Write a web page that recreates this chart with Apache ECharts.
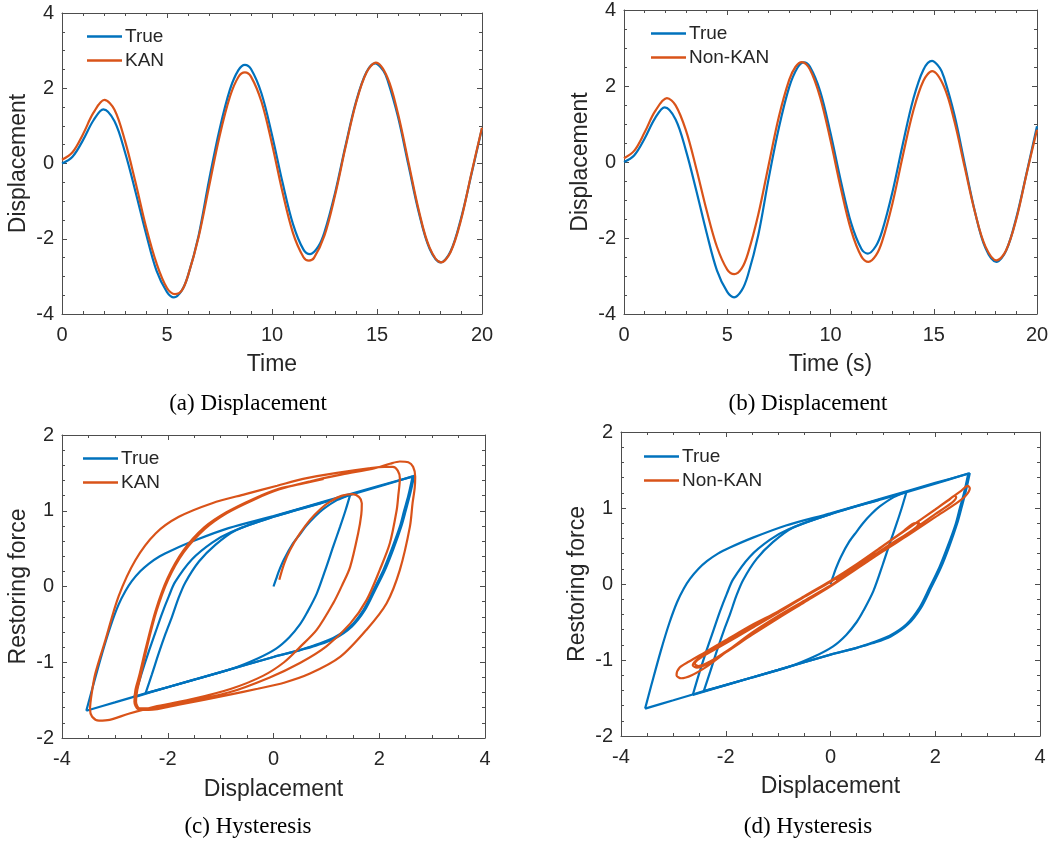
<!DOCTYPE html>
<html lang="en">
<head>
<meta charset="UTF-8">
<title>KAN vs Non-KAN</title>
<script src="https://cdn.jsdelivr.net/npm/echarts@6/dist/echarts.min.js"></script>
<style>
  html, body { margin: 0; padding: 0; background: #fff; }
</style>
</head>
<body>
<div id="main" style="width:1057px;height:846px;"></div>
<script>
// time histories, [time, displacement]
var trueDisp = [[0,0],[0.5,0.18],[1.0,0.62],[1.5,1.15],[1.97,1.44],[2.5,1.12],[3.0,0.3],[3.5,-0.75],[4.0,-1.86],[4.5,-2.85],[5.0,-3.42],[5.33,-3.56],[5.7,-3.38],[6.0,-2.98],[6.5,-1.93],[7.0,-0.45],[7.5,0.9],[8.0,1.97],[8.4,2.48],[8.71,2.62],[9.0,2.51],[9.5,1.86],[10.0,0.76],[10.5,-0.5],[11.0,-1.61],[11.5,-2.29],[11.81,-2.41],[12.2,-2.21],[12.5,-1.82],[13.0,-0.79],[13.5,0.47],[14.0,1.64],[14.5,2.43],[14.92,2.66],[15.3,2.47],[15.5,2.22],[16.0,1.24],[16.5,-0.05],[17.0,-1.32],[17.5,-2.26],[18.03,-2.63],[18.5,-2.34],[19.0,-1.46],[19.5,-0.28],[20.0,0.94]];
var kanDisp = [[0,0.1],[0.5,0.3],[1.0,0.78],[1.5,1.35],[2.02,1.69],[2.5,1.43],[3.0,0.6],[3.5,-0.5],[4.0,-1.68],[4.5,-2.65],[5.0,-3.31],[5.38,-3.47],[5.7,-3.38],[6.0,-2.98],[6.5,-1.97],[7.0,-0.62],[7.5,0.72],[8.0,1.78],[8.4,2.3],[8.71,2.42],[9.0,2.31],[9.5,1.64],[10.0,0.52],[10.5,-0.76],[11.0,-1.85],[11.5,-2.49],[11.76,-2.58],[12.0,-2.51],[12.5,-1.91],[13.0,-0.85],[13.5,0.43],[14.0,1.61],[14.5,2.42],[14.95,2.68],[15.5,2.28],[16.0,1.32],[16.5,0.03],[17.0,-1.27],[17.5,-2.23],[18.05,-2.63],[18.5,-2.36],[19.0,-1.5],[19.5,-0.25],[20.0,0.95]];
var nonKanDisp = [[0,0.1],[0.5,0.3],[1.0,0.78],[1.5,1.33],[2.08,1.68],[2.5,1.49],[3.0,0.83],[3.5,-0.17],[4.0,-1.27],[4.5,-2.23],[5.0,-2.83],[5.34,-2.95],[5.7,-2.8],[6.0,-2.41],[6.5,-1.39],[7.0,-0.09],[7.5,1.19],[8.0,2.16],[8.3,2.5],[8.61,2.63],[9.0,2.44],[9.5,1.7],[10.0,0.57],[10.5,-0.69],[11.0,-1.8],[11.5,-2.49],[11.84,-2.63],[12.2,-2.46],[12.5,-2.09],[13.0,-1.09],[13.5,0.16],[14.0,1.33],[14.5,2.14],[14.92,2.39],[15.5,1.98],[16.0,1.07],[16.5,-0.14],[17.0,-1.33],[17.5,-2.22],[18.05,-2.59],[18.5,-2.33],[19.0,-1.5],[19.5,-0.3],[20.0,0.85]];

// hysteresis, [displacement, restoring force]
var trueHyst = [
  [0,0],[0.05,0.1],[0.1,0.2],[0.2,0.36],[0.36,0.56],[0.5,0.69],[0.62,0.8],[0.78,0.92],[0.94,1.02],[1.2,1.14],[1.45,1.21],
  [1.36,1.0],[1.26,0.79],[1.13,0.53],[1.0,0.26],[0.82,-0.09],[0.63,-0.35],[0.5,-0.5],[0.3,-0.67],[0.05,-0.82],[-0.3,-0.95],[-0.8,-1.09],[-1.5,-1.23],[-2.42,-1.41],[-3.0,-1.53],[-3.54,-1.64],
  [-3.42,-1.33],[-3.24,-0.88],[-3.08,-0.52],[-2.93,-0.24],[-2.8,-0.06],[-2.68,0.07],[-2.52,0.2],[-2.36,0.3],[-2.15,0.4],[-1.92,0.48],[-1.48,0.61],[-0.85,0.77],[0,0.93],[1.0,1.13],[2.0,1.33],[2.63,1.45],
  [2.55,1.2],[2.47,1.0],[2.39,0.79],[2.24,0.5],[2.08,0.22],[1.89,-0.05],[1.7,-0.31],[1.45,-0.53],[1.13,-0.68],[0.8,-0.77],[0.5,-0.84],[0,-0.93],[-1.0,-1.13],[-2.0,-1.33],[-2.42,-1.41],
  [-2.3,-1.16],[-2.17,-0.88],[-2.04,-0.62],[-1.92,-0.4],[-1.8,-0.16],[-1.67,0.05],[-1.41,0.33],[-1.1,0.55],[-0.72,0.74],[0,0.92],[1.0,1.12],[2.0,1.32],[2.66,1.46],
  [2.58,1.21],[2.5,1.0],[2.42,0.8],[2.27,0.5],[2.11,0.22],[1.92,-0.05],[1.73,-0.31],[1.48,-0.53],[1.15,-0.69],[0.8,-0.78],[0.5,-0.84],[0,-0.93],[-1.0,-1.13],[-2.0,-1.33],[-2.63,-1.46],
  [-2.5,-1.16],[-2.36,-0.86],[-2.23,-0.6],[-2.11,-0.36],[-1.98,-0.13],[-1.86,0.06],[-1.54,0.36],[-1.16,0.58],[-0.8,0.72],[0,0.92],[0.94,1.11]
];
var kanHyst = [
  [0.11,0.09],[0.2,0.3],[0.31,0.48],[0.5,0.7],[0.69,0.88],[0.9,1.03],[1.07,1.12],[1.3,1.2],[1.5,1.22],[1.62,1.18],[1.67,1.1],
  [1.66,0.95],[1.6,0.7],[1.45,0.26],[1.3,0.02],[1.13,-0.22],[0.82,-0.57],[0.5,-0.8],[0.2,-1.0],[-0.2,-1.18],[-0.8,-1.35],[-1.5,-1.48],[-2.2,-1.58],[-2.74,-1.68],[-3.1,-1.76],[-3.3,-1.77],[-3.43,-1.72],[-3.47,-1.62],
  [-3.44,-1.42],[-3.37,-1.15],[-3.18,-0.71],[-2.93,-0.13],[-2.61,0.35],[-2.23,0.7],[-1.79,0.92],[-1.16,1.1],[-0.53,1.22],[0.07,1.33],[0.56,1.42],[1.2,1.5],[1.8,1.56],[2.1,1.58],[2.26,1.58],[2.35,1.53],[2.39,1.43],
  [2.36,1.2],[2.33,1.01],[2.2,0.57],[2.01,0.22],[1.76,-0.18],[1.45,-0.49],[1.0,-0.79],[0.5,-1.01],[-0.07,-1.2],[-0.85,-1.4],[-1.79,-1.54],[-2.36,-1.61],[-2.53,-1.61],[-2.6,-1.52],
  [-2.58,-1.38],[-2.52,-1.2],[-2.4,-0.82],[-2.22,-0.34],[-2.0,0.08],[-1.7,0.45],[-1.3,0.76],[-0.88,0.97],[-0.36,1.15],[0.1,1.28],[0.7,1.39],[1.3,1.48],[1.9,1.56],[2.2,1.62],[2.39,1.65],[2.55,1.64],[2.64,1.58],[2.68,1.45],
  [2.67,1.3],[2.63,1.1],[2.58,0.79],[2.39,0.22],[2.14,-0.22],[1.76,-0.57],[1.26,-0.93],[0.69,-1.15],[0.2,-1.27],[-0.3,-1.35],[-0.85,-1.43],[-1.79,-1.56],[-2.36,-1.63],[-2.56,-1.62],[-2.63,-1.52],
  [-2.61,-1.36],[-2.54,-1.18],[-2.41,-0.8],[-2.23,-0.32],[-2.01,0.1],[-1.71,0.47],[-1.31,0.78],[-0.89,0.98],[-0.37,1.16],[0.1,1.29],[0.5,1.35],[0.95,1.42]
];
var nonKanHyst = [
  [0.1,0.05],[0.5,0.26],[1.0,0.5],[1.4,0.7],[1.62,0.8],[1.7,0.8],[1.64,0.75],[1.3,0.58],[0.8,0.35],[0.3,0.11],[0,-0.02],[-0.5,-0.22],[-1.0,-0.42],[-1.5,-0.64],[-2.0,-0.9],[-2.35,-1.08],[-2.65,-1.2],[-2.85,-1.24],[-2.94,-1.2],
  [-2.88,-1.1],[-2.7,-1.02],[-2.4,-0.9],[-2.0,-0.74],[-1.5,-0.54],[-1.0,-0.36],[-0.5,-0.16],[0,0.04],[0.5,0.26],[1.0,0.5],[1.5,0.74],[2.0,0.98],[2.3,1.13],[2.5,1.23],[2.62,1.29],[2.66,1.26],
  [2.58,1.16],[2.4,1.06],[2.0,0.88],[1.5,0.65],[1.0,0.43],[0.5,0.2],[0,-0.03],[-0.5,-0.24],[-1.0,-0.45],[-1.5,-0.67],[-2.0,-0.9],[-2.35,-1.05],[-2.55,-1.1],[-2.63,-1.07],
  [-2.56,-1.0],[-2.3,-0.88],[-2.0,-0.76],[-1.5,-0.56],[-1.0,-0.37],[-0.5,-0.16],[0,0.04],[0.5,0.26],[1.0,0.5],[1.5,0.74],[2.0,0.98],[2.25,1.1],[2.37,1.16],[2.4,1.14],
  [2.32,1.07],[2.0,0.92],[1.5,0.68],[1.0,0.46],[0.5,0.22],[0,-0.02],[-0.5,-0.23],[-1.0,-0.44],[-1.5,-0.66],[-2.0,-0.89],[-2.3,-1.02],[-2.52,-1.08],[-2.59,-1.05],
  [-2.5,-0.98],[-2.1,-0.82],[-1.5,-0.58],[-1.0,-0.38],[-0.5,-0.17],[0,0.03],[0.5,0.25],[0.85,0.42]
];

var captions = ['(a) Displacement', '(b) Displacement', '(c) Hysteresis', '(d) Hysteresis'];

var BLUE = '#0072BD', ORANGE = '#D95319', AX = '#4d4d4d', TXT = '#262626';
var SANS = '"Liberation Sans", Arial, sans-serif';

var grids = [
    {left: 62, top: 13, width: 420, height: 301},
    {left: 624, top: 7, width: 413, height: 307},
    {left: 62, top: 435, width: 423, height: 303},
    {left: 621, top: 432, width: 419, height: 304}
];
// x: min,max,interval,minor ; y: min,max,interval,minor
var xr = [[0,20,5,5],[0,20,5,5],[-4,4,2,4],[-4,4,2,4]];
var yr = [[-4,4,2,4],[-4,4,2,4],[-2,2,1,5],[-2,2,1,5]];
var xNames = ['Time', 'Time (s)', 'Displacement', 'Displacement'];
var yNames = ['Displacement', 'Displacement', 'Restoring force', 'Restoring force'];
var xGap = [39, 39, 40, 39];

var xAxes = [], yAxes = [];
function tickCfg(split) {
    return {
        axisTick: {show: true, inside: true, length: 5, lineStyle: {color: AX}},
        minorTick: {show: true, splitNumber: split, length: 3, lineStyle: {color: AX}},
        splitLine: {show: false},
        minorSplitLine: {show: false},
        axisLine: {show: true, onZero: false, lineStyle: {color: AX, width: 1}}
    };
}
for (var i = 0; i < 4; i++) {
    var bx = Object.assign({
        type: 'value', gridIndex: i, position: 'bottom',
        min: xr[i][0], max: xr[i][1], interval: xr[i][2],
        name: xNames[i], nameLocation: 'middle', nameGap: xGap[i],
        nameTextStyle: {fontSize: 23, color: TXT, fontFamily: SANS},
        axisLabel: {fontSize: 20, color: TXT, fontFamily: SANS, margin: 11}
    }, tickCfg(xr[i][3]));
    var tx = Object.assign({
        type: 'value', gridIndex: i, position: 'top',
        min: xr[i][0], max: xr[i][1], interval: xr[i][2],
        axisLabel: {show: false}
    }, tickCfg(xr[i][3]));
    var ly = Object.assign({
        type: 'value', gridIndex: i, position: 'left',
        min: yr[i][0], max: yr[i][1], interval: yr[i][2],
        name: yNames[i], nameLocation: 'middle', nameGap: 32,
        nameTextStyle: {fontSize: 23, color: TXT, fontFamily: SANS},
        axisLabel: {fontSize: 20, color: TXT, fontFamily: SANS, margin: 8}
    }, tickCfg(yr[i][3]));
    var ry = Object.assign({
        type: 'value', gridIndex: i, position: 'right',
        min: yr[i][0], max: yr[i][1], interval: yr[i][2],
        axisLabel: {show: false}
    }, tickCfg(yr[i][3]));
    xAxes.push(bx, tx);
    yAxes.push(ly, ry);
}

function line(name, gi, data, color, smooth) {
    return {
        name: name, type: 'line', xAxisIndex: gi * 2, yAxisIndex: gi * 2,
        data: data, symbol: 'none', showSymbol: false, smooth: smooth,
        lineStyle: {color: color, width: 2.2}, itemStyle: {color: color}
    };
}

// cut a loop path into runs where displacement keeps one direction,
// so the smoothing keeps the sharp turning points
function runs(pts) {
    var out = [], cur = [pts[0]], dir = 0;
    for (var k = 1; k < pts.length; k++) {
        var d = Math.sign(pts[k][0] - pts[k - 1][0]);
        if (dir !== 0 && d !== 0 && d !== dir) {
            out.push(cur);
            cur = [pts[k - 1]];
        }
        if (d !== 0) dir = d;
        cur.push(pts[k]);
    }
    out.push(cur);
    return out;
}

function legend(names, left, top) {
    return {
        data: names, orient: 'vertical', left: left, top: top, padding: 0,
        icon: 'rect', itemWidth: 35, itemHeight: 2.5, itemGap: 5, selectedMode: false,
        textStyle: {fontSize: 19, color: TXT, fontFamily: SANS, lineHeight: 19, padding: [0, 0, 0, -2]}
    };
}

var capPos = [[248, 404], [808, 404], [248, 827], [808, 827]];
var graphics = captions.map(function (c, k) {
    return {
        type: 'text', x: capPos[k][0], y: capPos[k][1], silent: true,
        style: {text: c, fontSize: 23, fontFamily: '"Liberation Serif", "Times New Roman", serif',
            fill: '#000', align: 'center', verticalAlign: 'middle'}
    };
});

var series = [
    line('True', 0, trueDisp, BLUE, 0.35),
    line('KAN', 0, kanDisp, ORANGE, 0.35),
    line('True', 1, trueDisp, BLUE, 0.35),
    line('Non-KAN', 1, nonKanDisp, ORANGE, 0.35)
];
runs(trueHyst).forEach(function (r) { series.push(line('True', 2, r, BLUE, 0.3)); });
series.push(line('KAN', 2, kanHyst, ORANGE, 0.3));
runs(trueHyst).forEach(function (r) { series.push(line('True', 3, r, BLUE, 0.3)); });
series.push(line('Non-KAN', 3, nonKanHyst, ORANGE, 0.3));

var myChart = echarts.init(document.getElementById('main'));
myChart.setOption({
    animation: false,
    backgroundColor: '#fff',
    grid: grids,
    xAxis: xAxes,
    yAxis: yAxes,
    legend: [
        legend(['True', 'KAN'], 87, 27),
        legend(['True', 'Non-KAN'], 651, 24),
        legend(['True', 'KAN'], 83, 449),
        legend(['True', 'Non-KAN'], 644, 447)
    ],
    graphic: graphics,
    series: series
});
</script>
</body>
</html>
